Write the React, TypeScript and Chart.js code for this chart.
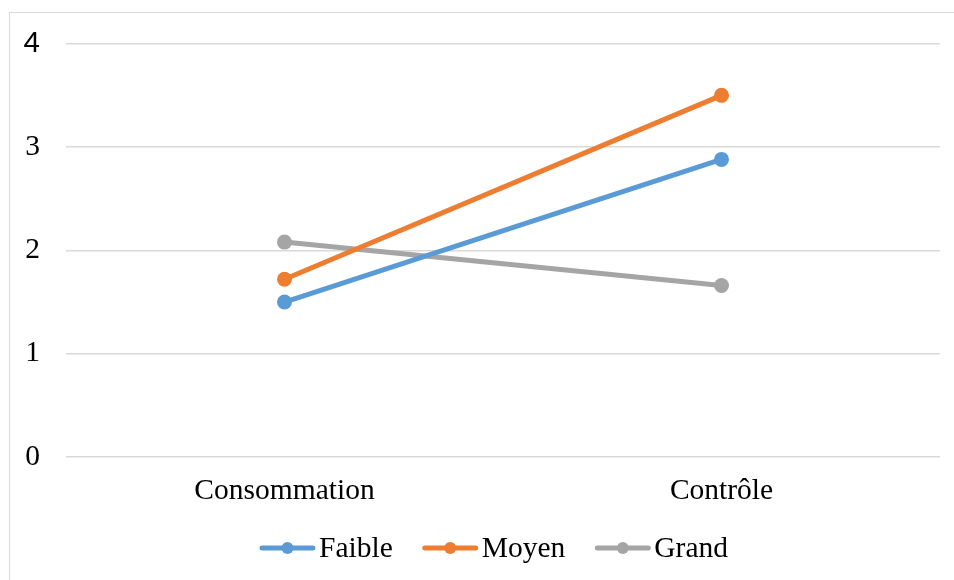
import React, { useEffect, useRef } from "react";
import { Chart, registerables } from "chart.js";

Chart.register(...registerables);

// Categories and series
const categories = ["Consommation", "Contrôle"];
const seriesNames = ["Faible", "Moyen", "Grand"];
const faible = [1.5, 2.88];
const moyen = [1.72, 3.5];
const grand = [2.08, 1.66];
const seriesColors = ["#5B9BD5", "#ED7D31", "#A5A5A5"];
const yTicks = [0, 1, 2, 3, 4];

const FONT = "'Liberation Serif', 'Times New Roman', serif";
const FONT_SIZE = 29.5;

// Thin frame around the whole chart
const framePlugin = {
  id: "frame",
  beforeDraw(chart: any) {
    const ctx = chart.ctx;
    ctx.save();
    ctx.fillStyle = "#ffffff";
    ctx.fillRect(0, 0, chart.width, chart.height);
    ctx.strokeStyle = "#D9D9D9";
    ctx.lineWidth = 1;
    ctx.strokeRect(9.5, 12.5, chart.width + 10, chart.height + 10);
    ctx.restore();
  },
};

// Legend with line + marker swatches, centred under the plot
const lineLegendPlugin = {
  id: "lineLegend",
  afterDraw(chart: any) {
    const ctx = chart.ctx;
    const datasets = chart.data.datasets;
    const lineLen = 55;
    const textGap = 4;
    const itemGap = 30;
    ctx.save();
    ctx.font = `${FONT_SIZE}px ${FONT}`;
    const widths = datasets.map((d: any) => ctx.measureText(d.label).width);
    const total =
      widths.reduce((a: number, w: number) => a + w + lineLen + textGap, 0) +
      itemGap * (datasets.length - 1);
    let x = 494 - total / 2;
    const y = chart.height - 32;
    datasets.forEach((d: any, i: number) => {
      ctx.strokeStyle = d.borderColor;
      ctx.lineWidth = 5;
      ctx.lineCap = "round";
      ctx.beginPath();
      ctx.moveTo(x + 2, y);
      ctx.lineTo(x + lineLen - 2, y);
      ctx.stroke();
      ctx.fillStyle = d.borderColor;
      ctx.beginPath();
      ctx.arc(x + lineLen / 2, y, 6, 0, Math.PI * 2);
      ctx.fill();
      ctx.fillStyle = "#000000";
      ctx.textAlign = "left";
      ctx.textBaseline = "middle";
      ctx.fillText(d.label, x + lineLen + textGap, y + 1);
      x += lineLen + textGap + widths[i] + itemGap;
    });
    ctx.restore();
  },
};

export default function App() {
  const canvasRef = useRef<HTMLCanvasElement | null>(null);

  useEffect(() => {
    document.body.style.margin = "0";
    const values = [faible, moyen, grand];
    const chart = new Chart(canvasRef.current as HTMLCanvasElement, {
      type: "line",
      data: {
        labels: categories,
        datasets: seriesNames.map((name, i) => ({
          label: name,
          data: values[i],
          borderColor: seriesColors[i],
          backgroundColor: seriesColors[i],
          borderWidth: 5,
          pointRadius: 7.5,
          pointHoverRadius: 7.5,
          pointBorderWidth: 0,
          pointBackgroundColor: seriesColors[i],
          tension: 0,
          fill: false,
        })),
      },
      options: {
        animation: false,
        responsive: false,
        maintainAspectRatio: false,
        layout: { padding: { left: 0, right: 14, top: 42, bottom: 73 } },
        plugins: {
          legend: { display: false },
          tooltip: { enabled: false },
        },
        scales: {
          x: {
            offset: true,
            grid: { display: false, drawTicks: false },
            border: { display: false },
            ticks: {
              color: "#000000",
              padding: 17,
              font: { family: FONT, size: FONT_SIZE },
            },
            afterFit(scale: any) {
              scale.height = 50;
            },
          },
          y: {
            min: 0,
            max: 4,
            afterBuildTicks(scale: any) {
              scale.ticks = yTicks.map((v) => ({ value: v }));
            },
            grid: { color: "#D9D9D9", lineWidth: 1.5, drawTicks: false },
            border: { display: false },
            ticks: {
              color: "#000000",
              padding: 26,
              font: (ctx: any) => ({
                family:
                  ctx.tick && ctx.tick.value === 4
                    ? "'Liberation Sans', Arial, sans-serif"
                    : FONT,
                size: FONT_SIZE,
              }),
            },
            afterFit(scale: any) {
              scale.width = 66;
            },
          },
        },
      },
      plugins: [framePlugin, lineLegendPlugin],
    });
    return () => chart.destroy();
  }, []);

  return (
    <div style={{ width: 954, height: 580 }}>
      <canvas ref={canvasRef} width={954} height={580} />
    </div>
  );
}
